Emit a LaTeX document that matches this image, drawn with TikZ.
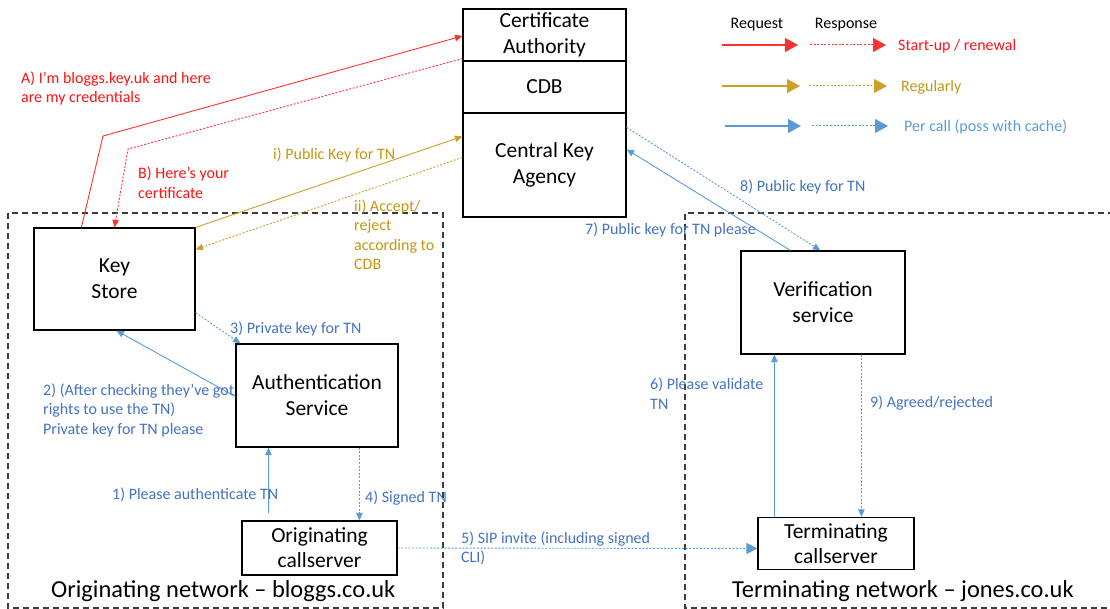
\documentclass[tikz,border=0pt]{standalone}
\usepackage{fontspec}
\setmainfont{Carlito}
\usetikzlibrary{arrows.meta,calc}
\definecolor{rline}{RGB}{255,50,50}
\definecolor{rtext}{RGB}{255,20,20}
\definecolor{gline}{RGB}{205,160,40}
\definecolor{gtext}{RGB}{196,150,20}
\definecolor{bline}{RGB}{91,155,213}
\definecolor{btext}{RGB}{68,114,196}
\definecolor{zone}{RGB}{60,60,60}
\begin{document}
\begin{tikzpicture}[x=1pt,y=-1pt,
  box/.style={draw=black, line width=1.2pt, inner sep=0pt, align=center,
    font=\fontsize{21.5}{26}\selectfont},
  lbl/.style={font=\fontsize{16}{19.5}\selectfont, align=left, anchor=west, inner sep=0pt, yshift=-1.5pt},
  legtext/.style={font=\fontsize{16}{19}\selectfont, anchor=west, inner sep=0pt, yshift=-1pt},
  nettext/.style={font=\fontsize{24.4}{28}\selectfont, anchor=west, inner sep=0pt},
  tip/.style={-{Triangle[length=7.5pt,width=6.5pt]}},
  bigtip/.style={-{Triangle[length=13pt,width=14pt]}},
  req/.style={line width=0.9pt, tip},
  resp/.style={line width=0.9pt, dash pattern=on 2pt off 1.6pt, tip},
  legreq/.style={line width=1.3pt, bigtip},
  legresp/.style={line width=1pt, dash pattern=on 2pt off 1.6pt, bigtip},
  zoneline/.style={draw=zone, line width=1.3pt, dash pattern=on 6pt off 4pt}]
\useasboundingbox (0,0) rectangle (1110,609);

% network zones
\draw[zoneline] (8,213) rectangle (443,608);
\draw[zoneline] (1114,213) -- (685,213) -- (685,608) -- (1114,608);

% central authority stack
\node[box, minimum width=163pt, minimum height=52pt] (ca) at (544.5,35) {Certificate\\Authority};
\node[box, minimum width=163pt, minimum height=52pt] (cdb) at (544.5,87) {CDB};
\node[box, minimum width=163pt, minimum height=104pt] (cka) at (544.5,165) {Central Key\\Agency};

% originating network
\node[box, minimum width=161pt, minimum height=102pt] (ks) at (114.5,279) {Key\\Store};
\node[box, minimum width=162pt, minimum height=103pt] (auth) at (317,395.5) {Authentication\\Service};
\node[box, minimum width=155pt, minimum height=54pt, font=\fontsize{21.5}{25}\selectfont] (orig) at (319.5,548) {Originating\\callserver};

% terminating network
\node[box, minimum width=164pt, minimum height=103pt] (verif) at (823,302.5) {Verification\\service};
\node[box, minimum width=156pt, minimum height=52pt, font=\fontsize{21.5}{25}\selectfont] (term) at (836,543.5) {Terminating\\callserver};

\node[nettext] (onet) at (51,591) {Originating network -- bloggs.co.uk};
\node[nettext] (tnet) at (732,591) {Terminating network -- jones.co.uk};

% start-up / renewal
\coordinate (aBend) at (103,136);
\coordinate (bBend) at (128,149);
\draw[req, draw=rline] ($(ks.north west)+(48,0)$) -- (aBend) -- ($(ca.west)+(0,1)$);
\draw[resp, draw=rline] ($(ca.south west)+(0,-3)$) -- (bBend) -- ($(ks.north west)+(81,0)$);
\node[lbl, text=rtext] (la) at (21,87) {A) I’m bloggs.key.uk and here\\are my credentials};
\node[lbl, text=rtext] (lb) at (138,181) {B) Here’s your\\certificate};

% regular updates
\draw[req, draw=gline] (ks.north east) -- ($(cka.north west)+(0,24)$);
\draw[resp, draw=gline] ($(cka.north west)+(0,45)$) -- ($(ks.north east)+(0,22)$);
\node[lbl, text=gtext] (li) at (273,153) {i) Public Key for TN};
\node[lbl, text=gtext] (lii) at (354,233) {ii) Accept/\\reject\\according to\\CDB};

% per call, originating side
\draw[req, draw=bline, shorten <=7pt] ($(orig.north west)+(27,0)$) -- ($(auth.south west)+(33,0)$);
\node[lbl, text=btext] (l1) at (112,493) {1) Please authenticate TN};
\draw[req, draw=bline] ($(auth.west)+(0,1)$) -- ($(ks.south west)+(83,0)$);
\node[lbl, text=btext] (l2) at (43,408.5) {2) (After checking they’ve got\\rights to use the TN)\\Private key for TN please};
\draw[resp, draw=bline] ($(ks.south east)+(0,-18)$) -- ($(auth.north west)+(5,0)$);
\node[lbl, text=btext] (l3) at (230,327) {3) Private key for TN};
\draw[resp, draw=bline] ($(auth.south west)+(124,0)$) -- ($(orig.north west)+(118,0)$);
\node[lbl, text=btext] (l4) at (365,497) {4) Signed TN};
\draw[line width=0.9pt, dash pattern=on 2pt off 1.6pt, draw=bline,
  -{Triangle[length=11pt,width=11pt]}] (orig.east) -- ($(term.west)+(0,5)$);
\node[lbl, text=btext] (l5) at (461,547) {5) SIP invite (including signed\\CLI)};

% per call, terminating side
\draw[req, draw=bline] ($(term.north west)+(17,0)$) -- ($(verif.south west)+(34,0)$);
\node[lbl, text=btext] (l6) at (650,392) {6) Please validate\\TN};
\draw[req, draw=bline] ($(verif.north west)+(50,0)$) -- ($(cka.north east)+(0,37)$);
\node[lbl, text=btext] (l7) at (585,228) {7) Public key for TN please};
\draw[resp, draw=bline] ($(cka.north east)+(0,15)$) -- ($(verif.north west)+(80,0)$);
\node[lbl, text=btext] (l8) at (740,185) {8) Public key for TN};
\draw[resp, draw=bline] ($(verif.south west)+(121,0)$) -- ($(term.north west)+(104,0)$);
\node[lbl, text=btext] (l9) at (870,402) {9) Agreed/rejected};

% legend
\node[legtext, anchor=center] (kreq) at (757,24) {Request};
\node[legtext, anchor=center] (kresp) at (846,24) {Response};
\coordinate (r1) at (722,45); \coordinate (r2) at (798,45);
\coordinate (r3) at (810,45); \coordinate (r4) at (886,45);
\draw[legreq, draw=rline] (r1) -- (r2);
\draw[legresp, draw=rline] (r3) -- (r4);
\node[legtext, text=rtext] (kr) at (898,45) {Start-up / renewal};
\coordinate (g1) at (722,86); \coordinate (g2) at (800,86);
\coordinate (g3) at (809,86); \coordinate (g4) at (887,86);
\draw[legreq, draw=gline] (g1) -- (g2);
\draw[legresp, draw=gline] (g3) -- (g4);
\node[legtext, text=gtext] (kg) at (901,86) {Regularly};
\coordinate (b1) at (725,126); \coordinate (b2) at (801,126);
\coordinate (b3) at (812,126); \coordinate (b4) at (888,126);
\draw[legreq, draw=bline] (b1) -- (b2);
\draw[legresp, draw=bline] (b3) -- (b4);
\node[legtext, text=bline] (kb) at (904,126) {Per call (poss with cache)};
\end{tikzpicture}
\end{document}
